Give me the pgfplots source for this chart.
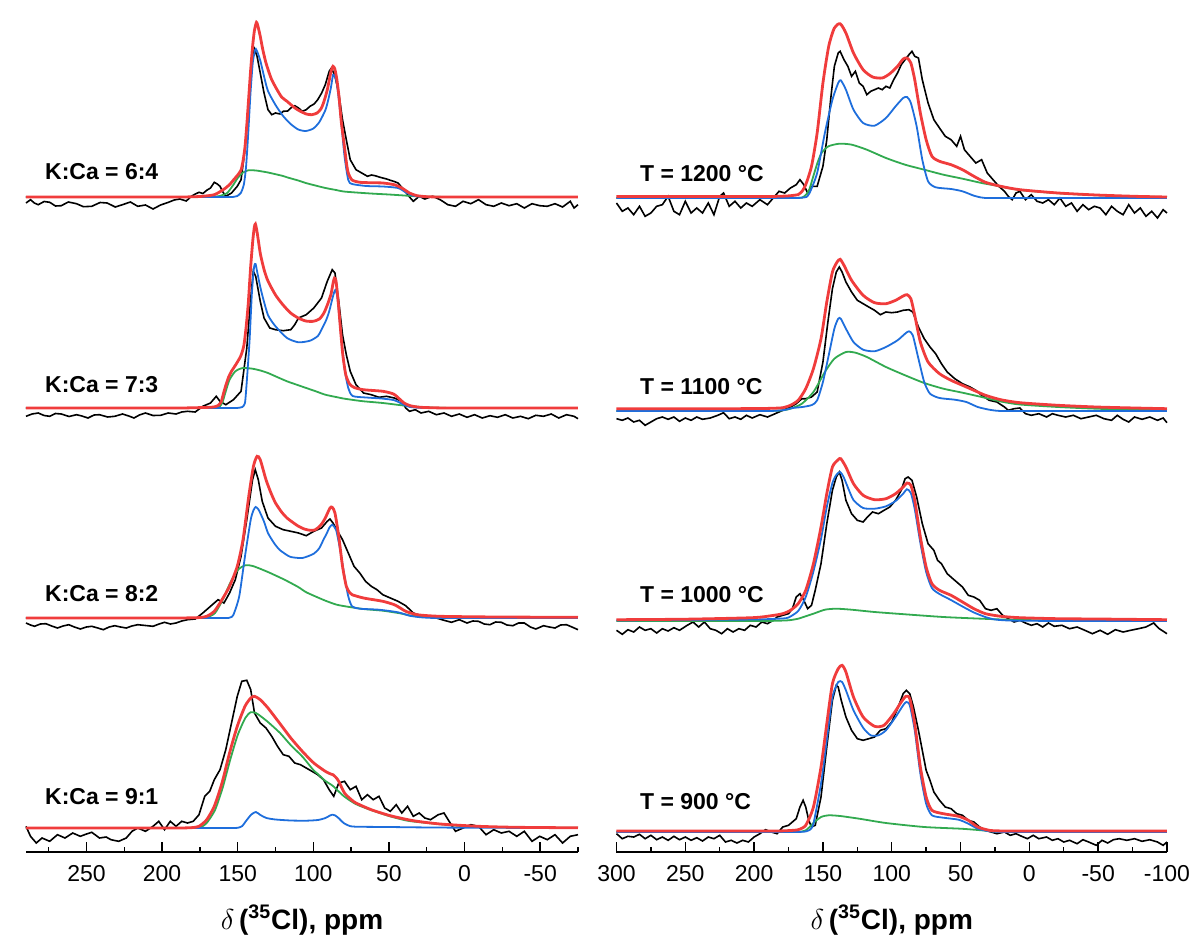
\documentclass[border=0pt]{standalone}
\usepackage{fontspec}
\setmainfont{Liberation Sans}
\usepackage{pgfplots}
\pgfplotsset{compat=1.18}
\definecolor{fitred}{RGB}{240,60,60}
\definecolor{fitblue}{RGB}{30,110,220}
\definecolor{fitgreen}{RGB}{50,170,80}
\newcommand{\spec}[3]{\addplot[#1] table[row sep=\\, y expr=\thisrowno{1}+#2] {#3};}
\tikzset{lab/.style={anchor=west, font=\bfseries\fontsize{11.5}{12}\selectfont}}
\pgfplotsset{
  blk/.style={black, line width=0.8pt},
  rfit/.style={fitred, line width=1.4pt, smooth, tension=0.4},
  bfit/.style={fitblue, line width=0.9pt, smooth, tension=0.4},
  gfit/.style={fitgreen, line width=0.9pt, smooth, tension=0.4},
  nmr/.style={
    scale only axis, height=426pt, ymin=0, ymax=852,
    x dir=reverse, axis x line=bottom, axis y line=none,
    x axis line style={-, line width=0.8pt},
    tick align=inside, major tick length=5pt, minor tick length=2.5pt,
    every tick/.style={black, line width=0.7pt},
    ytick=\empty, clip=false,
    /pgf/number format/assume math mode=true,
    xticklabel style={font=\fontsize{11.5}{12}\selectfont, anchor=center, yshift=-11pt},
    xlabel={\bfseries\fontsize{14}{16}\selectfont $\delta$\,(\textsuperscript{35}Cl), ppm},
    xlabel style={at={(axis description cs:0.5,0)}, anchor=center, yshift=-34pt},
  },
}
\begin{document}
\begin{tikzpicture}
\useasboundingbox (0,0) rectangle (600pt,475pt);
% ---------------- LEFT ----------------
\begin{axis}[nmr, at={(13pt,49pt)}, anchor=south west, width=276pt,
  xmin=-75, xmax=290,
  xtick={-50,0,50,100,150,200,250},
  minor xtick={-75,-25,25,75,125,175,225,275}]
% K:Ca 6:4
\spec{blk}{655}{290 -6\\ 287 -2.7\\ 284.5 -6\\ 281.9 -7.7\\ 278 -4.5\\ 274.3 -5.3\\ 270.5 -9\\ 266.7 -8.7\\ 262 -5\\ 256.6 -6.7\\ 252 -9.7\\ 246.5 -9.3\\ 241 -5.5\\ 236.3 -6\\ 231 -10\\ 226.2 -7.7\\ 221 -5\\ 216.1 -9.3\\ 211 -8\\ 206 -12\\ 201 -8\\ 195.8 -5.3\\ 192 -3\\ 188.3 -2\\ 184 -4\\ 180.7 0.7\\ 178 3\\ 175.6 4.7\\ 173 3.5\\ 170.5 6.7\\ 168 9\\ 165.5 14.7\\ 163.5 13\\ 161.7 10.7\\ 159.8 5\\ 157.9 0.7\\ 154.1 4\\ 150.3 10.7\\ 147.8 17.3\\ 145.2 47.3\\ 142.7 97.3\\ 140.7 137.3\\ 138.9 148\\ 137.2 140.7\\ 135.1 124\\ 132.6 104\\ 130 87.3\\ 127.5 82.3\\ 125 84\\ 122 83\\ 119.9 85.7\\ 117 86\\ 114.9 89\\ 112.3 91.3\\ 109.8 89\\ 107.3 85.7\\ 104.7 87.3\\ 102.2 90.7\\ 99.5 93\\ 97.1 97.3\\ 94.5 104\\ 92.1 112.3\\ 89.5 125.7\\ 88 129\\ 85.7 120.7\\ 83.2 104\\ 80.7 77.3\\ 78.2 57.3\\ 75.6 37.3\\ 71.8 27.3\\ 68 24\\ 64.2 20.7\\ 61.5 22\\ 59.2 21.3\\ 56.5 20\\ 54.1 19\\ 51.5 18\\ 49.1 16.7\\ 46.5 15.5\\ 44 14\\ 40.2 7.3\\ 36.4 0\\ 33.9 -4.3\\ 30 0.7\\ 26.3 -2\\ 21.2 0.7\\ 16.1 -2.7\\ 11.1 -7.7\\ 6 -9.3\\ 1 -4.3\\ -4.1 -6.7\\ -9.2 -2.7\\ -14.2 -7.7\\ -19.3 -9.3\\ -24.3 -6\\ -29.4 -8.7\\ -34.5 -6.7\\ -39.5 -11\\ -44.6 -6.7\\ -49.7 -8.7\\ -54.7 -9.3\\ -59.8 -6.7\\ -64.8 -10\\ -69.9 -4.3\\ -72.4 -11\\ -75 -7.7\\}
\spec{gfit}{655}{290 0\\ 200 0\\ 180 0\\ 172 0\\ 168 0.2\\ 165 0.5\\ 162 1\\ 157 4\\ 153 12\\ 150 19\\ 147 24\\ 143 26.7\\ 138 26.5\\ 130 24.5\\ 120 21\\ 117 19.5\\ 110 16.5\\ 105 14\\ 100 12\\ 92 9\\ 85 7\\ 80 5.5\\ 70 4.3\\ 60 3.3\\ 50 2.5\\ 40 1.5\\ 30 0.6\\ 20 0.2\\ 10 0\\ 0 0\\ -20 0\\ -75 0\\}
\spec{bfit}{655}{290 0\\ 200 0\\ 170 0\\ 160 0\\ 156 0\\ 154 0\\ 153 0.1\\ 151.5 0.5\\ 150.3 1\\ 148 4\\ 146 12\\ 144.5 30\\ 143 65\\ 141.5 105\\ 140 135\\ 138.5 147\\ 138 148\\ 137 145\\ 135 136\\ 132.5 120\\ 130 106\\ 125 92\\ 120 81\\ 115 73\\ 110 67.5\\ 105 66\\ 100 68.5\\ 96 75\\ 92 87\\ 90 98\\ 88.3 110\\ 87 122\\ 86 121\\ 84.5 114\\ 82 82\\ 79.4 41\\ 76.9 17\\ 74.4 13\\ 65 11\\ 54 10.5\\ 44 9\\ 39 4.7\\ 34 1.3\\ 28 0.2\\ 22 0\\ 15 0\\ 0 0\\ -30 0\\ -75 0\\}
\spec{rfit}{655}{290 0\\ 230 0\\ 200 0\\ 190 0\\ 185 0.05\\ 180 0.2\\ 175 0.5\\ 170 1.2\\ 165.5 2.3\\ 162 5\\ 158 9\\ 155 13\\ 152.8 17\\ 150 22\\ 147.8 27\\ 146.5 36\\ 145.2 50\\ 144 72\\ 142.7 100\\ 141.5 126\\ 140.2 150\\ 139 166\\ 137.6 174.7\\ 136.5 170\\ 135.1 160.7\\ 133.5 148\\ 131.3 134\\ 128 119\\ 125 110\\ 121 100\\ 117.4 95.7\\ 113 90\\ 109.8 86.7\\ 104.7 83\\ 101 82.3\\ 97.5 84\\ 95 88\\ 93.3 94\\ 90.8 107\\ 88.3 125.7\\ 87 130.7\\ 85.8 128\\ 84.5 118\\ 83 100\\ 81.5 75\\ 79.4 50\\ 78 33\\ 76.9 24\\ 74.4 17\\ 69.3 14.7\\ 60 14.2\\ 54 14\\ 46.5 12.3\\ 41.5 9\\ 36.4 4\\ 31.3 1.3\\ 25 0.3\\ 20 0.1\\ 12 0\\ 0 0\\ -30 0\\ -75 0\\}
% K:Ca 7:3
\spec{blk}{444}{290 -8.3\\ 286 -6\\ 281.9 -5\\ 278 -7.5\\ 274.3 -8.3\\ 270.5 -5.5\\ 266.7 -6\\ 261.5 -8.5\\ 256.6 -6.7\\ 253 -8\\ 249 -10\\ 245 -7\\ 241.4 -6.7\\ 236 -9\\ 231.3 -8.3\\ 226.2 -6\\ 222 -8\\ 218.6 -10\\ 215 -7\\ 211 -5\\ 206 -7.5\\ 200.9 -7.3\\ 196 -5\\ 190.8 -6\\ 187 -4\\ 183.2 -3.3\\ 178.1 -4\\ 173.1 1.7\\ 168 5\\ 164.2 11.7\\ 161.7 6.7\\ 157.9 3.3\\ 152.8 8.3\\ 147.8 16.7\\ 144 60\\ 141.4 110\\ 139.7 136.7\\ 138.1 131.7\\ 135.1 106.7\\ 132.6 90\\ 128.8 80\\ 125 78.3\\ 119.9 77.3\\ 114.9 78.3\\ 112.3 83.3\\ 109.8 90\\ 104.7 93.3\\ 99.7 100\\ 94.6 110\\ 90.8 126.7\\ 87.5 138.3\\ 85.7 135\\ 83.2 106.7\\ 80.7 73.3\\ 78.2 53.3\\ 75.6 36.7\\ 71.8 23.3\\ 66.8 15\\ 61.7 13.3\\ 56.6 10.7\\ 51.6 11.7\\ 46.5 10\\ 41.5 6.7\\ 38.9 0\\ 36.4 -3.3\\ 32.6 -1.7\\ 28.8 -5\\ 23.7 -3.3\\ 18.7 -6.7\\ 13.6 -5\\ 8.6 -8.3\\ 3.5 -6\\ -1.6 -9.3\\ -6.6 -6.7\\ -11.7 -10\\ -16.8 -7.7\\ -21.8 -9.3\\ -26.9 -6.7\\ -31.9 -10\\ -37 -8.3\\ -42.1 -10.7\\ -47.1 -7.3\\ -52.2 -8.3\\ -57.3 -6\\ -62.3 -10\\ -67.4 -6.7\\ -72.4 -8.3\\ -75 -10.7\\}
\spec{gfit}{444}{290 0\\ 200 0\\ 180 0\\ 172 0\\ 168 0.1\\ 165 0.3\\ 163 0.5\\ 161.7 1.7\\ 160 6\\ 157.9 16.7\\ 155.4 28.3\\ 151.6 36.7\\ 148 39.5\\ 145.2 40\\ 140.2 39.3\\ 135 37.5\\ 130 35\\ 124 31\\ 117.4 26.7\\ 111 23.3\\ 104.7 20\\ 98 16.5\\ 92.1 13.3\\ 85 11\\ 79.4 9.3\\ 72 7.7\\ 66.8 6.7\\ 54.1 5\\ 41.5 2.7\\ 28.8 1\\ 20 0.3\\ 12 0.1\\ 0 0\\ -30 0\\ -75 0\\}
\spec{bfit}{444}{290 0\\ 200 0\\ 165 0\\ 156 0\\ 152 0\\ 150 0.1\\ 148.5 0.4\\ 147 1\\ 145.2 5\\ 144 26.7\\ 142.2 66.7\\ 140.7 113\\ 139.5 137\\ 138.9 143\\ 138.2 144\\ 137.2 136.7\\ 135.5 124\\ 133.8 113\\ 130 93\\ 125 81.7\\ 117.4 70\\ 109.8 65.7\\ 102.2 67.3\\ 97 72\\ 94.6 78.3\\ 91.5 88\\ 89.5 96.7\\ 87 111.7\\ 85.5 118\\ 84 110\\ 81.9 76.7\\ 79.4 40\\ 76.9 20\\ 74 12\\ 65 10.5\\ 55 9.5\\ 47 8\\ 43 5.5\\ 40 3\\ 36 1\\ 30 0.2\\ 24 0\\ 10 0\\ -20 0\\ -75 0\\}
\spec{rfit}{444}{290 0\\ 230 0\\ 200 0\\ 190 0\\ 185 0.05\\ 178 0.3\\ 172 0.5\\ 166 1\\ 163 2.5\\ 161 6\\ 159.5 14\\ 158 22\\ 156 31\\ 154 37\\ 151 44\\ 148 52\\ 146 62\\ 144.5 80\\ 143 105\\ 141.5 140\\ 140 168\\ 139 181\\ 138.3 184\\ 137.2 176\\ 135 154\\ 132.5 138\\ 130 127\\ 125 113\\ 120 103\\ 115 95\\ 110 90\\ 105 87\\ 100 86.7\\ 96 89\\ 93 95\\ 90.5 104\\ 88.3 114\\ 86.8 126\\ 86 130\\ 85 127\\ 83.5 105\\ 82 78\\ 80.5 53\\ 78.5 33\\ 76 24\\ 73 20.5\\ 67 18.3\\ 54 16.7\\ 47 14\\ 43 9\\ 40 5\\ 36 2.3\\ 30 0.8\\ 20 0.2\\ 10 0\\ -20 0\\ -75 0\\}
% K:Ca 8:2
\spec{blk}{234}{290 -5\\ 287 -7\\ 284.4 -8.3\\ 280.5 -6\\ 276.8 -5.7\\ 273 -8\\ 269.2 -10\\ 265.5 -8\\ 261.7 -6.7\\ 258 -9\\ 254.1 -11\\ 250 -9\\ 246.5 -8.3\\ 242.5 -10\\ 238.9 -11.7\\ 235 -9\\ 231.3 -7.7\\ 227.5 -9\\ 223.7 -10\\ 220 -8\\ 216.1 -6.7\\ 211 -7.5\\ 206 -8.3\\ 202 -6\\ 198.4 -4.3\\ 194.5 -6\\ 190.8 -5\\ 187 -3\\ 183.2 -1.7\\ 178.1 -1\\ 173.1 5\\ 168 11.7\\ 163 18.3\\ 159.1 15\\ 155.4 25\\ 151.6 38.3\\ 147.8 61.7\\ 144 98.3\\ 140.2 138.3\\ 138.4 148.3\\ 136.4 138.3\\ 133.8 116.7\\ 130 100\\ 125 91.7\\ 119.9 88.3\\ 114.9 86.7\\ 109.8 85\\ 104.7 82.3\\ 99.7 86.7\\ 94.6 90\\ 90.8 96.7\\ 89 99\\ 87 95\\ 84.5 88.3\\ 80.7 78.3\\ 76.9 65\\ 73.1 51.7\\ 69.3 45\\ 65.5 36.7\\ 61.7 31.7\\ 57.9 28.3\\ 54.1 23.3\\ 49.1 20\\ 44 16.7\\ 38.9 12.3\\ 33.9 5\\ 28.8 2.3\\ 23.7 1.7\\ 18.7 0\\ 13.6 -2.3\\ 8.6 -4.3\\ 3.5 -1.7\\ -1.6 -5\\ -5.5 -3\\ -9.2 -3.3\\ -13 -6\\ -16.8 -6.7\\ -20.5 -4\\ -24.3 -4.3\\ -28 -7\\ -31.9 -7.7\\ -35.7 -5\\ -39.5 -5\\ -43.5 -9\\ -47.1 -11\\ -52.2 -7.7\\ -56 -9\\ -59.8 -10\\ -63.5 -7\\ -67.4 -6.7\\ -71 -9\\ -75 -11.7\\}
\spec{gfit}{234}{290 0\\ 210 0\\ 190 0\\ 180 0\\ 175 0.2\\ 170 0.8\\ 165 5\\ 160 18\\ 155 35\\ 150 48\\ 145 52.7\\ 140 52\\ 130 46\\ 120 39\\ 117 36.7\\ 110 31\\ 105 26\\ 100 22.5\\ 92 17.3\\ 85 13.5\\ 79 11.7\\ 67 9\\ 54 7.3\\ 42 4.5\\ 36 2.5\\ 30 1.5\\ 20 1\\ 0 0.6\\ -40 0.3\\ -75 0.2\\}
\spec{bfit}{234}{290 0\\ 200 0\\ 170 0\\ 162 0\\ 158 0\\ 156 0.1\\ 154.5 0.8\\ 152.8 3.3\\ 149 21.7\\ 145.2 61.7\\ 141.4 98.3\\ 139.5 108\\ 138.1 111\\ 136.5 109\\ 135.1 105\\ 132.5 96\\ 130 85\\ 126 75\\ 122.4 68.3\\ 118 63.5\\ 114.9 61\\ 107.3 60\\ 99.7 64.3\\ 96 70\\ 93.3 78.3\\ 91 85\\ 89.5 90\\ 87.5 93.3\\ 85 88.3\\ 83.5 78\\ 81.9 65\\ 79.4 41.7\\ 76.9 21.7\\ 74.4 11.7\\ 69.3 9.3\\ 56.7 8.3\\ 44 5.7\\ 36.4 2.3\\ 28.8 0.7\\ 20 0\\ 10 0\\ -20 0\\ -75 0\\}
\spec{rfit}{234}{290 0\\ 230 0\\ 200 0\\ 190 0\\ 184 0.1\\ 180 0.2\\ 175 0.5\\ 170.5 1.7\\ 165.5 6.7\\ 160.4 18.3\\ 155.4 31.7\\ 150.3 51.7\\ 146.5 78.3\\ 142.7 121.7\\ 139.6 151.7\\ 137.2 161.7\\ 135.1 158.3\\ 131.3 138.3\\ 128 125\\ 125 115\\ 121 106\\ 117.4 100\\ 113 95\\ 109.8 91.7\\ 106 89\\ 102.2 87.7\\ 99 88\\ 97.1 90\\ 94.5 94\\ 92.1 100\\ 89 110\\ 87.5 110.7\\ 85.7 105\\ 83.2 81.7\\ 80.7 51.7\\ 78.2 31.7\\ 76 25.5\\ 74.4 23.3\\ 66.8 20\\ 54.1 16.7\\ 46.5 13.3\\ 42 9.5\\ 38.9 6.7\\ 31.3 3.3\\ 16.1 1.7\\ -21.8 1\\ -75 0.7\\}
% K:Ca 9:1
\spec{blk}{24}{290 1.7\\ 287 -8.3\\ 283.2 -15\\ 279.4 -10\\ 274.3 -13.3\\ 269.2 -6.7\\ 264.2 -10\\ 259.1 -5\\ 254.1 -8.3\\ 250 -6\\ 246.5 -4.3\\ 241.4 -10\\ 237 -9\\ 233.8 -11.7\\ 228.7 -13.3\\ 223.7 -10\\ 219.9 -3.3\\ 216.1 0\\ 211 -3.3\\ 206 1.7\\ 202.2 6.7\\ 198.4 -1.7\\ 194.6 6.7\\ 190.8 1.7\\ 187 6.7\\ 183.2 5\\ 179.4 6.7\\ 175.6 13.3\\ 171.8 31.7\\ 168.5 36.7\\ 165.5 48.3\\ 161.7 58.3\\ 157.9 78.3\\ 154.1 105\\ 150.3 131.7\\ 147.3 146.7\\ 144 147.7\\ 141.4 138.3\\ 138.9 115\\ 135.1 105\\ 131.3 100\\ 127.5 91.7\\ 123.7 81.7\\ 119.9 73.3\\ 116.1 71.7\\ 112.3 65\\ 108.5 63.3\\ 104.7 60\\ 100.9 56.7\\ 97.1 53.3\\ 93.3 48.3\\ 89.5 38.3\\ 86.5 31.7\\ 83.2 45\\ 79.4 46.7\\ 75.6 38.3\\ 71.8 41.7\\ 68 28.3\\ 64.2 33.3\\ 60.4 28.3\\ 56.6 31.7\\ 52.8 20\\ 49.1 16.7\\ 45.2 23.3\\ 41.5 15\\ 37.7 21.7\\ 33.9 11.7\\ 30 15\\ 26.3 10\\ 22.5 8.3\\ 17.4 13.3\\ 13.6 15\\ 9.8 5.7\\ 6 -3.3\\ 1 0\\ -4.1 3.3\\ -9.2 1.7\\ -14.2 -6.7\\ -19.3 -1.7\\ -24.3 -5\\ -29.4 -3.3\\ -34.5 -8.3\\ -39.5 -3.3\\ -44.6 -13.3\\ -49.7 -8.3\\ -54.7 -11.7\\ -59.8 -6.7\\ -64.8 -15\\ -69.9 -8.3\\ -75 -6.7\\}
\spec{gfit}{24}{290 0\\ 230 0\\ 200 0\\ 188 0\\ 182 0.1\\ 178 0.3\\ 175 0.5\\ 172.5 2.5\\ 170 6\\ 165 18\\ 160 40\\ 155 68\\ 150 93\\ 145 110\\ 141.5 115.7\\ 138 115\\ 135 112\\ 130 106\\ 122 95\\ 115 83\\ 107 71\\ 100 58\\ 97 54\\ 92 47\\ 87 42\\ 80 32\\ 72 24\\ 62 18\\ 50 12\\ 40 8\\ 34 6.5\\ 16 3.8\\ 0 1.8\\ -30 0.6\\ -75 0.2\\}
\spec{bfit}{24}{290 0\\ 200 0\\ 165 0\\ 156 0\\ 152 0\\ 150 0.2\\ 148.5 0.8\\ 147 2\\ 144 8\\ 141 13.5\\ 138 16\\ 135 13\\ 131 10\\ 125 8.5\\ 115 7.5\\ 105 7.3\\ 97 8\\ 92 10\\ 89 12.5\\ 87.5 13.3\\ 85.5 12.5\\ 83 9.5\\ 80 5\\ 76 2\\ 72 1.3\\ 60 1.1\\ 50 1\\ 35 0.7\\ 20 0.5\\ 0 0.3\\ -40 0.1\\ -75 0\\}
\spec{rfit}{24}{290 0\\ 230 0\\ 200 0\\ 190 0\\ 185 0.1\\ 180 0.4\\ 175.6 1.7\\ 170.5 8.3\\ 165.5 21.7\\ 160.4 45\\ 155.4 75\\ 150.3 101.7\\ 145.2 121.7\\ 141.4 130\\ 138.9 131.7\\ 135.1 128.3\\ 130 120\\ 122.4 105\\ 114.9 90\\ 107.3 76.7\\ 99.7 65\\ 92.1 56.7\\ 88.5 54\\ 87 53.3\\ 85 50.5\\ 83.2 46.7\\ 79.4 35\\ 75 28.5\\ 71.8 25\\ 61.7 18.3\\ 49.1 12.3\\ 33.9 7.3\\ 16.1 4\\ -9.2 1.7\\ -34.5 0.7\\ -75 0.2\\}
\node[lab] at (axis cs:282,680.3) {K:Ca = 6:4};
\node[lab] at (axis cs:282,467.7) {K:Ca = 7:3};
\node[lab] at (axis cs:282,258.7) {K:Ca = 8:2};
\node[lab] at (axis cs:282,55.3) {K:Ca = 9:1};
\end{axis}
% ---------------- RIGHT ----------------
\begin{axis}[nmr, at={(308.25pt,49pt)}, anchor=south west, width=275.25pt,
  xmin=-100, xmax=300,
  xtick={-100,-50,0,50,100,150,200,250,300},
  minor xtick={-75,-25,25,75,125,175,225,275}]
% 1200
\spec{blk}{654}{300 -5\\ 295.8 -13.3\\ 291.7 -10\\ 287.5 -16.7\\ 283.3 -8.3\\ 279.2 -18.3\\ 275 -15\\ 270.8 -8.3\\ 266.7 -6.7\\ 262.5 1.7\\ 258.3 -13.3\\ 254.2 -16.7\\ 250 -3.3\\ 245.8 -15\\ 241.7 -10\\ 237.5 -15\\ 233.3 -5\\ 229.2 -16.7\\ 225 1.7\\ 222.2 5\\ 218.1 -8.3\\ 213.9 -3.3\\ 209.7 -10\\ 205.6 -5\\ 201.4 -8.3\\ 195.8 -1.7\\ 190.3 -6.7\\ 186.1 0\\ 181.9 6.7\\ 177.8 5\\ 173.6 10\\ 169.4 13.3\\ 166.7 18.3\\ 163.9 13.3\\ 161.1 5\\ 158.3 11.7\\ 154.2 11.7\\ 150 31.7\\ 147.2 58.3\\ 144.4 98.3\\ 141.7 131.7\\ 138.9 145\\ 137.5 146.7\\ 134.7 138.3\\ 131.9 131.7\\ 129.2 121.7\\ 126.4 126.7\\ 123.6 115\\ 120.8 111.7\\ 118.1 103.3\\ 115.3 106.7\\ 112.5 108.3\\ 109.7 110\\ 106.9 108.3\\ 104.2 111.7\\ 101.4 110\\ 98.6 118.3\\ 95.8 125\\ 93.1 133.3\\ 90.3 138.3\\ 87.5 143.3\\ 85.3 146.7\\ 83.3 141.7\\ 80.6 140\\ 77.8 118.3\\ 73.6 95\\ 69.4 78.3\\ 65.3 70\\ 61.1 61.7\\ 56.9 58.3\\ 52.8 51.7\\ 50 61.7\\ 47.2 48.3\\ 43.1 41.7\\ 38.9 35\\ 34.7 38.3\\ 30.6 25\\ 26.4 18.3\\ 22.2 11.7\\ 18.1 6.7\\ 15.3 1.7\\ 12.5 -1.7\\ 9.7 5\\ 6.9 6.7\\ 2.8 -1.7\\ -1.4 3.3\\ -5.6 -3.3\\ -9.7 -5\\ -13.9 -1.7\\ -18.1 -6.7\\ -22.2 0\\ -26.4 -8.3\\ -30.6 -5\\ -34.7 -13.3\\ -38.9 -6.7\\ -43.1 -11.7\\ -47.2 -8.3\\ -51.4 -10\\ -55.6 -16.7\\ -59.7 -8.3\\ -63.9 -13.3\\ -68.1 -16.7\\ -72.2 -6.7\\ -76.4 -15\\ -80.6 -10\\ -84.7 -18.3\\ -88.9 -13.3\\ -93.1 -20\\ -97.2 -11.7\\ -100 -15\\}
\spec{gfit}{654}{300 0\\ 230 0\\ 195 0\\ 180 0\\ 172 0\\ 168 0.1\\ 165 0.5\\ 162.5 3\\ 160 8\\ 157 21.7\\ 154 35\\ 151 45\\ 146 51.7\\ 138 54.3\\ 129 53.3\\ 118.1 48.3\\ 104.2 40\\ 90.3 33.3\\ 76.4 28.3\\ 62.5 23.3\\ 48.6 19.3\\ 34.7 15\\ 23.6 12.3\\ 20.8 11.4\\ 6.9 8\\ -20.8 4.8\\ -48.6 2.8\\ -76.4 1.5\\ -100 0.9\\}
\spec{bfit}{654}{300 0\\ 230 0\\ 195 0\\ 178 0\\ 170 0\\ 166 0.2\\ 164 0.5\\ 162 1\\ 159.7 5\\ 154.2 25\\ 148.6 65\\ 143.1 98.3\\ 138.9 115\\ 137 117.7\\ 133.3 108.3\\ 127.8 88.3\\ 120.8 75\\ 112.5 72.3\\ 104.2 80\\ 97.2 91.7\\ 91.7 100\\ 88.9 101\\ 86.1 95\\ 81.9 71.7\\ 77.8 38.3\\ 73.6 16.7\\ 68.1 10.7\\ 56.9 9\\ 48.6 6.7\\ 40.3 2.3\\ 35 0.5\\ 31.9 0\\ 25 0\\ 10 0\\ -20 0\\ -60 0\\ -100 0\\}
\spec{rfit}{654}{300 1.5\\ 230 1.5\\ 200 1.5\\ 185 1.6\\ 180 1.8\\ 176 2\\ 173.6 2.3\\ 170.5 2.8\\ 168 3.3\\ 165 7\\ 162.5 13.3\\ 158.3 31.7\\ 154.2 65\\ 150 115\\ 145.8 151.7\\ 141.7 170\\ 137.5 174.3\\ 133.3 165\\ 127.8 145\\ 120.8 128.3\\ 113.9 121\\ 106.9 120\\ 101.4 124.3\\ 95.8 131.7\\ 91.7 139\\ 88.9 140\\ 86.1 135\\ 83.3 118.3\\ 79.2 85\\ 75 58.3\\ 70.8 41.7\\ 65.3 36.7\\ 56.9 33.3\\ 48.6 28.3\\ 40.3 21.7\\ 31.9 15.7\\ 20.8 11.7\\ 6.9 8.3\\ -20.8 5\\ -48.6 3\\ -76.4 1.7\\ -100 1\\}
% 1100
\spec{blk}{441}{300 -7.7\\ 295.8 -9.3\\ 291.7 -7\\ 287.5 -11\\ 283.3 -9.3\\ 279.2 -14.3\\ 275 -11\\ 270.8 -7.7\\ 266.7 -6\\ 262.5 -8.3\\ 258.3 -6\\ 254.2 -10.3\\ 250 -7\\ 245.8 -9.3\\ 241.7 -6\\ 237.5 -8.3\\ 231.9 -7\\ 226.4 -4.3\\ 222.2 -1.7\\ 218.1 -7.7\\ 213.9 -6\\ 209.7 -8.3\\ 205.6 -4.3\\ 201.4 -7\\ 195.8 -3.7\\ 190.3 -6\\ 184.7 -2.7\\ 179.2 0.7\\ 173.6 4\\ 169.4 7.3\\ 165.3 12.3\\ 162.5 12.3\\ 158.3 14\\ 154.2 19\\ 150 49\\ 146.4 89\\ 143.1 122.3\\ 140.3 139\\ 138.1 144\\ 136.1 139\\ 133.3 129\\ 129.2 119\\ 125 110.7\\ 120.8 107.3\\ 116.7 104\\ 112.5 100.7\\ 108.3 96.3\\ 104.2 99\\ 100 98.3\\ 95.8 99\\ 91.7 100.7\\ 87.5 101.3\\ 84.7 99\\ 80.6 84\\ 76.4 72.3\\ 72.2 64\\ 68.1 57.3\\ 63.9 47.3\\ 59.7 39\\ 54.2 32.3\\ 48.6 27.3\\ 43.1 24\\ 38.9 20.7\\ 34.7 15.7\\ 29.2 10.7\\ 23.6 9\\ 18.1 4\\ 15.3 0.7\\ 11.1 2.3\\ 6.9 3\\ 2.8 -2.7\\ -1.4 -4.3\\ -6.9 -2.7\\ -12.5 -6\\ -16.7 -2.7\\ -20.8 -4.3\\ -26.4 -6\\ -31.9 -4.3\\ -37.5 -7.7\\ -43.1 -6\\ -48.6 -4.3\\ -54.2 -7.7\\ -59.7 -9.3\\ -63.9 -4.3\\ -68.1 -8.3\\ -72.2 -11\\ -76.4 -6\\ -81.9 -8.3\\ -87.5 -6\\ -93.1 -9.3\\ -97.2 -7\\ -100 -11.7\\}
\spec{gfit}{441}{300 0\\ 230 0\\ 200 0\\ 190 0\\ 185 0.2\\ 179 0.7\\ 173.6 2.3\\ 165.3 7.3\\ 156.9 19\\ 148.6 39\\ 141.7 52.3\\ 133.3 59\\ 126.4 58.3\\ 118.1 54\\ 104.2 44\\ 90.3 35.7\\ 76.4 28\\ 62.5 22.3\\ 48.6 18.3\\ 34.7 14\\ 20.8 9.5\\ 6.9 6.5\\ -20.8 4\\ -48.6 2.3\\ -76.4 1.2\\ -100 0.7\\}
\spec{bfit}{441}{300 0\\ 230 0\\ 200 0\\ 190 0\\ 185 0.2\\ 178 1\\ 172 3\\ 165 4\\ 158 6\\ 154.2 10.7\\ 150 29\\ 145.8 55.7\\ 141.7 82.3\\ 138.9 92.3\\ 137 92.3\\ 133.3 82.3\\ 127.8 69\\ 120.8 61.3\\ 112.5 59.7\\ 104.2 64\\ 95.8 70.7\\ 90.3 77.3\\ 87.5 79.7\\ 84.7 75.7\\ 80.6 52.3\\ 76.4 29\\ 72.2 17.3\\ 65.3 13\\ 54.2 11.3\\ 45.8 9\\ 37.5 4\\ 29.2 1.3\\ 24 0.3\\ 20.8 0\\ 12 0\\ 0 0\\ -30 0\\ -100 0\\}
\spec{rfit}{441}{300 2.3\\ 230 2.3\\ 200 2.4\\ 190 2.6\\ 185 2.8\\ 179.2 3.3\\ 173.6 5.7\\ 168 10.7\\ 162.5 22.3\\ 156.9 42.3\\ 151.4 72.3\\ 147.2 109\\ 143.1 139\\ 139.7 149\\ 137.5 151.7\\ 134.7 145.7\\ 129.2 130.7\\ 120.8 115.7\\ 112.5 108.3\\ 104.2 107.3\\ 97.2 110.7\\ 91.7 115\\ 88.9 116.3\\ 86.1 112.3\\ 83.3 95.7\\ 79.2 69\\ 73.6 49\\ 65.3 37.3\\ 56.9 30.7\\ 48.6 25.7\\ 40.3 20.7\\ 31.9 15.7\\ 20.8 11.3\\ 6.9 8.3\\ -20.8 5.7\\ -48.6 4\\ -76.4 3\\ -100 2.3\\}
% 1000
\spec{blk}{231}{300 -9.3\\ 295.8 -13.3\\ 291.7 -8.7\\ 287.5 -11\\ 283.3 -6\\ 279.2 -9.3\\ 275 -7.7\\ 270.8 -12\\ 266.7 -7.7\\ 262.5 -10\\ 258.3 -6.7\\ 254.2 -9.3\\ 248.6 -4.3\\ 244.4 -1\\ 240.3 -6\\ 236.1 -1\\ 231.9 -7.7\\ 227.8 -9.3\\ 223.6 -12.7\\ 219.4 -7.7\\ 215.3 -11\\ 211.1 -7.7\\ 206.9 -9.3\\ 202.8 -4.3\\ 198.6 -6\\ 194.4 -1\\ 190.3 -2.7\\ 186.1 0.7\\ 183.3 4\\ 179.2 5.7\\ 175 7.3\\ 172.2 12.3\\ 169.4 24\\ 166.7 27.3\\ 163.9 20.7\\ 161.1 12.3\\ 158.3 15.7\\ 155.6 30.7\\ 151.4 57.3\\ 147.2 97.3\\ 143.1 130.7\\ 140.3 144\\ 138.1 149\\ 136.1 140.7\\ 133.3 120.7\\ 129.2 107.3\\ 125 100.7\\ 120.8 99\\ 118.1 103.3\\ 113.9 109\\ 109.7 107.3\\ 105.6 110.7\\ 101.4 114\\ 97.2 120.7\\ 93.1 130.7\\ 90.3 142.3\\ 88.1 144\\ 85.3 140.7\\ 81.9 124\\ 77.8 97.3\\ 73.6 77.3\\ 69.4 70.7\\ 66.7 60.7\\ 63.9 57.3\\ 59.7 47.3\\ 55.6 42.3\\ 52.8 39\\ 48.6 34\\ 44.4 25.7\\ 40.3 24\\ 36.1 20.7\\ 31.9 12.3\\ 27.8 10.7\\ 23.6 12.3\\ 19.4 5.7\\ 15.3 2.3\\ 11.1 -1\\ 6.9 0.7\\ 2.8 -2\\ -1.4 -4.3\\ -5.6 -2.7\\ -9.7 -6\\ -13.9 -2\\ -18.1 -5.3\\ -23.6 -4.3\\ -29.2 -7.7\\ -34.7 -6\\ -40.3 -9.3\\ -45.8 -12.7\\ -51.4 -9.3\\ -56.9 -13.3\\ -62.5 -8.7\\ -68.1 -11\\ -73.6 -9.3\\ -79.2 -7.7\\ -84.7 -6\\ -90.3 -2\\ -94.4 -7.7\\ -100 -12.7\\}
\spec{gfit}{231}{300 0\\ 230 0\\ 200 0\\ 190 0\\ 185 0.2\\ 175 0.7\\ 168 2.3\\ 162 5\\ 156.9 7.3\\ 148.6 11.3\\ 140.3 12.3\\ 129.2 11.3\\ 112.5 9\\ 90.3 6.7\\ 62.5 4\\ 34.7 2.3\\ 6.9 1\\ -50 0.3\\ -100 0\\}
\spec{bfit}{231}{300 0.5\\ 250 1\\ 200 1.5\\ 180 2.5\\ 175 3.5\\ 168 10\\ 162.5 24\\ 157 49\\ 151.4 82\\ 147.2 114\\ 143.1 138\\ 140.3 146\\ 137.5 149\\ 135 144\\ 132 134\\ 127.8 121\\ 120.8 113\\ 112.5 112.3\\ 104.2 114.7\\ 97.2 120\\ 91.7 127.3\\ 89 131.7\\ 86.1 128\\ 83.3 112\\ 79.2 78\\ 75 49\\ 70.8 33\\ 65.3 27\\ 57 21\\ 48.6 14.5\\ 40.3 8.5\\ 32 4\\ 25 1.5\\ 15 0.5\\ 0 0.2\\ -40 0\\ -100 0\\}
\spec{rfit}{231}{300 1.3\\ 250 1.8\\ 201.4 3.3\\ 187.5 5.3\\ 179.2 7.3\\ 173.6 10.7\\ 168 17.3\\ 162.5 30.7\\ 156.9 57.3\\ 151.4 94\\ 147.2 127.3\\ 143.1 154\\ 138.9 161.3\\ 137 162.3\\ 133.3 154\\ 127.8 137.3\\ 120.8 125.7\\ 112.5 121.3\\ 104.2 122.3\\ 97.2 127.3\\ 91.7 134\\ 88.9 138\\ 86.1 135.7\\ 83.3 120.7\\ 79.2 84\\ 75 54\\ 70.8 37.3\\ 65.3 30.7\\ 56.9 25.7\\ 48.6 19\\ 40.3 12.3\\ 31.9 7.3\\ 20.8 4.7\\ 6.9 3.3\\ -20.8 2.3\\ -48.6 2\\ -100 1.3\\}
% 900
\spec{blk}{20}{300 -1.7\\ 295.8 -6.7\\ 291.7 -4.3\\ 287.5 -5\\ 283.3 -2.3\\ 279.2 -6.7\\ 275 -3.3\\ 270.8 -7.7\\ 266.7 -5\\ 262.5 -8.3\\ 258.3 -4.3\\ 254.2 -7.7\\ 250 -5\\ 245.8 -8.3\\ 241.7 -5.7\\ 237.5 -9\\ 233.3 -5\\ 229.2 -6.7\\ 225 -3.3\\ 220.8 -10\\ 216.7 -8.3\\ 212.5 -11\\ 208.3 -8.3\\ 204.2 -10\\ 200 -5\\ 195.8 -1.7\\ 191.7 2.3\\ 187.5 0\\ 183.3 -1.7\\ 179.2 5\\ 175 6.7\\ 172.2 10\\ 169.4 13.3\\ 166.7 25\\ 164.4 31.7\\ 162.5 25\\ 160.3 11.7\\ 158.3 5\\ 155.6 6.7\\ 151.4 35\\ 147.2 85\\ 143.1 131.7\\ 140.3 146.7\\ 138.9 145\\ 136.7 131.7\\ 133.3 115\\ 129.2 101.7\\ 125 93.3\\ 120.8 91.7\\ 116.7 93.3\\ 112.5 95\\ 108.3 101.7\\ 104.2 103.3\\ 100 110\\ 95.8 123.3\\ 91.7 138.3\\ 89.4 141.7\\ 86.9 138.3\\ 84.2 125\\ 80.6 101.7\\ 77.8 81.7\\ 75 61.7\\ 72.2 51.7\\ 69.4 40\\ 65.3 31.7\\ 61.1 25\\ 56.9 23.3\\ 52.8 18.3\\ 48.6 16.7\\ 44.4 11.7\\ 40.3 10\\ 36.1 5\\ 31.9 1.7\\ 27.8 0\\ 23.6 -1.7\\ 18.1 0\\ 13.9 -3.3\\ 9.7 -1.7\\ 5.6 -4.3\\ 1.4 -6.7\\ -2.8 -3.3\\ -6.9 -6.7\\ -12.5 -5\\ -16.7 -8.3\\ -20.8 -6.7\\ -25 -10\\ -29.2 -8.3\\ -34.7 -11.7\\ -38.9 -7.7\\ -43.1 -10\\ -48.6 -13.3\\ -52.8 -8.3\\ -56.9 -11\\ -61.1 -7.7\\ -65.3 -6.7\\ -70.8 -8.3\\ -76.4 -6.7\\ -81.9 -9.3\\ -87.5 -7.7\\ -93.1 -10\\ -97.2 -13.3\\ -100 -10\\}
\spec{gfit}{20}{300 0\\ 230 0\\ 195 0\\ 178 0\\ 170 0\\ 166 0.3\\ 162.5 1.7\\ 159.7 5\\ 156.9 9\\ 151.4 15\\ 145.8 16.7\\ 137.5 16\\ 123.6 13.3\\ 104.2 9\\ 76.4 5\\ 50 3.3\\ 40 2.3\\ 29 1\\ 24 0.4\\ 18 0\\ 10 0\\ -20 0\\ -60 0\\ -100 0\\}
\spec{bfit}{20}{300 0\\ 230 0\\ 195 0\\ 178 0\\ 170 0\\ 165 0.2\\ 162 0.7\\ 159.7 2\\ 156.9 8.3\\ 151.4 48.3\\ 147.2 91.7\\ 143.1 135\\ 138.9 150\\ 136.1 150\\ 133.3 141.7\\ 127.8 121.7\\ 120.8 104.3\\ 115.3 96.7\\ 109.7 96.7\\ 104.2 101.7\\ 97.2 115\\ 91.7 126.7\\ 89.4 130\\ 86.9 126.7\\ 83.3 101.7\\ 79.2 58.3\\ 75 28.3\\ 70.8 16.7\\ 62.5 14.3\\ 51.4 12.3\\ 44.4 8.3\\ 37.5 3.3\\ 29.2 0.7\\ 24 0.2\\ 20 0\\ 10 0\\ -20 0\\ -60 0\\ -100 0\\}
\spec{rfit}{20}{300 1\\ 230 1\\ 195 1\\ 180 1.1\\ 174 1.5\\ 168 2.3\\ 162.5 6.7\\ 156.9 25\\ 151.4 65\\ 147.2 108.3\\ 143.1 148.3\\ 138.9 163.3\\ 136.1 166.7\\ 133.3 160\\ 127.8 135\\ 120.8 115\\ 112.5 105.7\\ 105.6 106.7\\ 98.6 118.3\\ 93.1 130\\ 89.7 135.7\\ 86.9 133.3\\ 83.3 108.3\\ 79.2 65\\ 75 35\\ 70.8 21.7\\ 62.5 18.3\\ 51.4 15.7\\ 44.4 11.7\\ 37.5 5\\ 29.2 1.7\\ 24 1.2\\ 18 1\\ 10 1\\ -20 1\\ -60 1\\ -100 1\\}
\node[lab] at (axis cs:288,678.7) {T = 1200 °C};
\node[lab] at (axis cs:288,465.3) {T = 1100 °C};
\node[lab] at (axis cs:288,257) {T = 1000 °C};
\node[lab] at (axis cs:288,50.3) {T = 900 °C};
\end{axis}
\end{tikzpicture}
\end{document}
